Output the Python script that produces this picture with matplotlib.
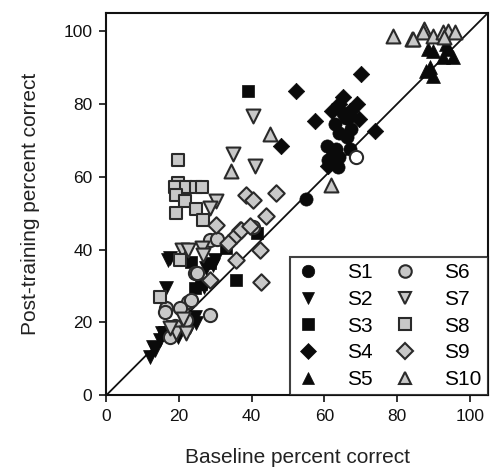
import matplotlib
matplotlib.use("Agg")
import matplotlib.pyplot as plt
from matplotlib.lines import Line2D

plt.rcParams['font.family'] = ['Liberation Sans', 'DejaVu Sans']

# ---- data (baseline %, post-training %) ----
s1_x = [55, 61, 63, 67.4, 66.3, 64, 60.6, 63.2, 62.2, 64, 66.9, 61.4, 63.6, 65, 66]
s1_y = [54, 64.7, 74.4, 73, 70.8, 72, 68.4, 67.5, 65.6, 65.3, 67.5, 63.4, 62.8, 77.5, 76]
s2_x = [12, 13.3, 12.8, 14.7, 15.2, 16.1, 19.7, 23, 24.3, 24.8, 17.4, 16.9, 16.5, 29.3, 27.5, 27, 30]
s2_y = [10.5, 12.4, 13.2, 15.2, 17, 17, 16, 18.8, 21.5, 19.8, 37.7, 37.2, 29.4, 35.8, 34.9, 29.8, 37]
s3_x = [38.9, 35.8, 41.5, 33, 23.4, 28.4, 24.3, 26, 16, 18]
s3_y = [83.4, 31.7, 44.5, 40.5, 36.7, 36.4, 29.5, 30.5, 16.5, 19]
s4_x = [70.1, 52.2, 65, 69, 62.2, 67.4, 57.3, 69.6, 73.8, 60.9, 48.1, 64, 67]
s4_y = [88.2, 83.6, 81.8, 79.9, 78, 76.6, 75.3, 75.8, 72.5, 62.9, 68.4, 80, 78]
s5_x = [88.4, 89.8, 94, 95.3, 92.6, 88, 89.8, 89, 93.5]
s5_y = [95, 94.5, 95, 93, 92.8, 89, 87.6, 90, 96.5]
s6_x = [28.4, 40.3, 24.3, 22.4, 23.4, 20.2, 16.5, 16.1, 28.4, 22, 17.4, 30.5, 25, 19]
s6_y = [42.7, 46.3, 33.6, 25.6, 26.2, 24, 24, 22.9, 22, 20.7, 16, 43, 33.5, 19]
s7_x = [40.3, 34.9, 40.8, 30.3, 28.4, 20.7, 22.4, 26.2, 26.5, 19.3, 22, 17.4, 21]
s7_y = [76.7, 66.1, 62.9, 53.2, 51.5, 40, 40, 40.4, 38.6, 17, 17, 18.5, 21]
s8_x = [19.7, 19.7, 18.8, 22, 24.8, 26.2, 19.3, 21.6, 19.3, 24.8, 26.5, 20.2, 14.7]
s8_y = [64.7, 58.3, 57.3, 57.3, 57.3, 57.3, 55.1, 53.2, 50.1, 51, 48.2, 37.2, 27]
s9_x = [38.5, 40.3, 46.8, 30.3, 44, 36.7, 35.8, 33.4, 42.2, 35.8, 42.6, 28.4, 37.1, 39.5]
s9_y = [55, 53.7, 55.6, 46.8, 49.1, 45.5, 44, 41.8, 39.9, 37.2, 31.2, 31.7, 45.5, 46.5]
s10_x = [84, 87.5, 87, 89.8, 92.6, 94, 95.8, 93, 78.8, 84.3, 61.9, 45, 34.4]
s10_y = [97.8, 100.6, 99.7, 98.7, 99.7, 100, 99.7, 98.4, 98.6, 97.8, 57.8, 71.6, 61.5]
open_x = [68.7]
open_y = [65.3]

labels = ['S1', 'S2', 'S3', 'S4', 'S5', 'S6', 'S7', 'S8', 'S9', 'S10']
ticks = [0, 20, 40, 60, 80, 100]

series = [(s1_x, s1_y), (s2_x, s2_y), (s3_x, s3_y), (s4_x, s4_y), (s5_x, s5_y),
          (s6_x, s6_y), (s7_x, s7_y), (s8_x, s8_y), (s9_x, s9_y), (s10_x, s10_y)]
markers = ['o', 'v', 's', 'D', '^', 'o', 'v', 's', 'D', '^']
sizes = [90, 100, 80, 70, 100, 90, 100, 80, 70, 100]
black = '#0a0a0a'
grey = '#c8c8c8'
edge = '#2a2a2a'

fig = plt.figure(figsize=(4.9, 4.75), dpi=100)
ax = fig.add_axes([0.217, 0.168, 0.779, 0.805])

ax.plot([0, 105], [0, 105], color='#111111', lw=1.3, zorder=1)

handles = []
for i, ((xs, ys), m, s) in enumerate(zip(series, markers, sizes)):
    if i < 5:
        fc, ec, lw = black, black, 0.5
    else:
        fc, ec, lw = grey, edge, 1.5
    ax.scatter(xs, ys, marker=m, s=s, facecolor=fc, edgecolor=ec, linewidth=lw, zorder=3)
    handles.append(Line2D([], [], linestyle='none', marker=m, markersize=9 if m != 'D' else 8,
                          markerfacecolor=fc, markeredgecolor=ec, markeredgewidth=lw,
                          label=labels[i]))
ax.scatter(open_x, open_y, marker='o', s=90, facecolor='white', edgecolor=edge, linewidth=1.5, zorder=3)

ax.set_xlim(0, 105)
ax.set_ylim(0, 105)
ax.set_xticks(ticks)
ax.set_yticks(ticks)
ax.tick_params(direction='out', length=5, width=1.2, labelsize=12.5, colors='#111111', pad=5)
for sp in ax.spines.values():
    sp.set_linewidth(1.5)
    sp.set_color('#111111')

ax.set_xlabel('Baseline percent correct', fontsize=15, labelpad=17, color='#222222')
ax.set_ylabel('Post-training percent correct', fontsize=15, labelpad=17, color='#222222')

leg = ax.legend(handles=handles, ncol=2, loc='lower right', frameon=True, fancybox=False,
                edgecolor='#111111', fontsize=15, borderaxespad=0, handletextpad=1.3,
                columnspacing=1.0, labelspacing=0.37, borderpad=0.3, handlelength=1.15)
leg.get_frame().set_linewidth(1.5)
leg.set_zorder(5)

fig.savefig('out.png', dpi=100)
